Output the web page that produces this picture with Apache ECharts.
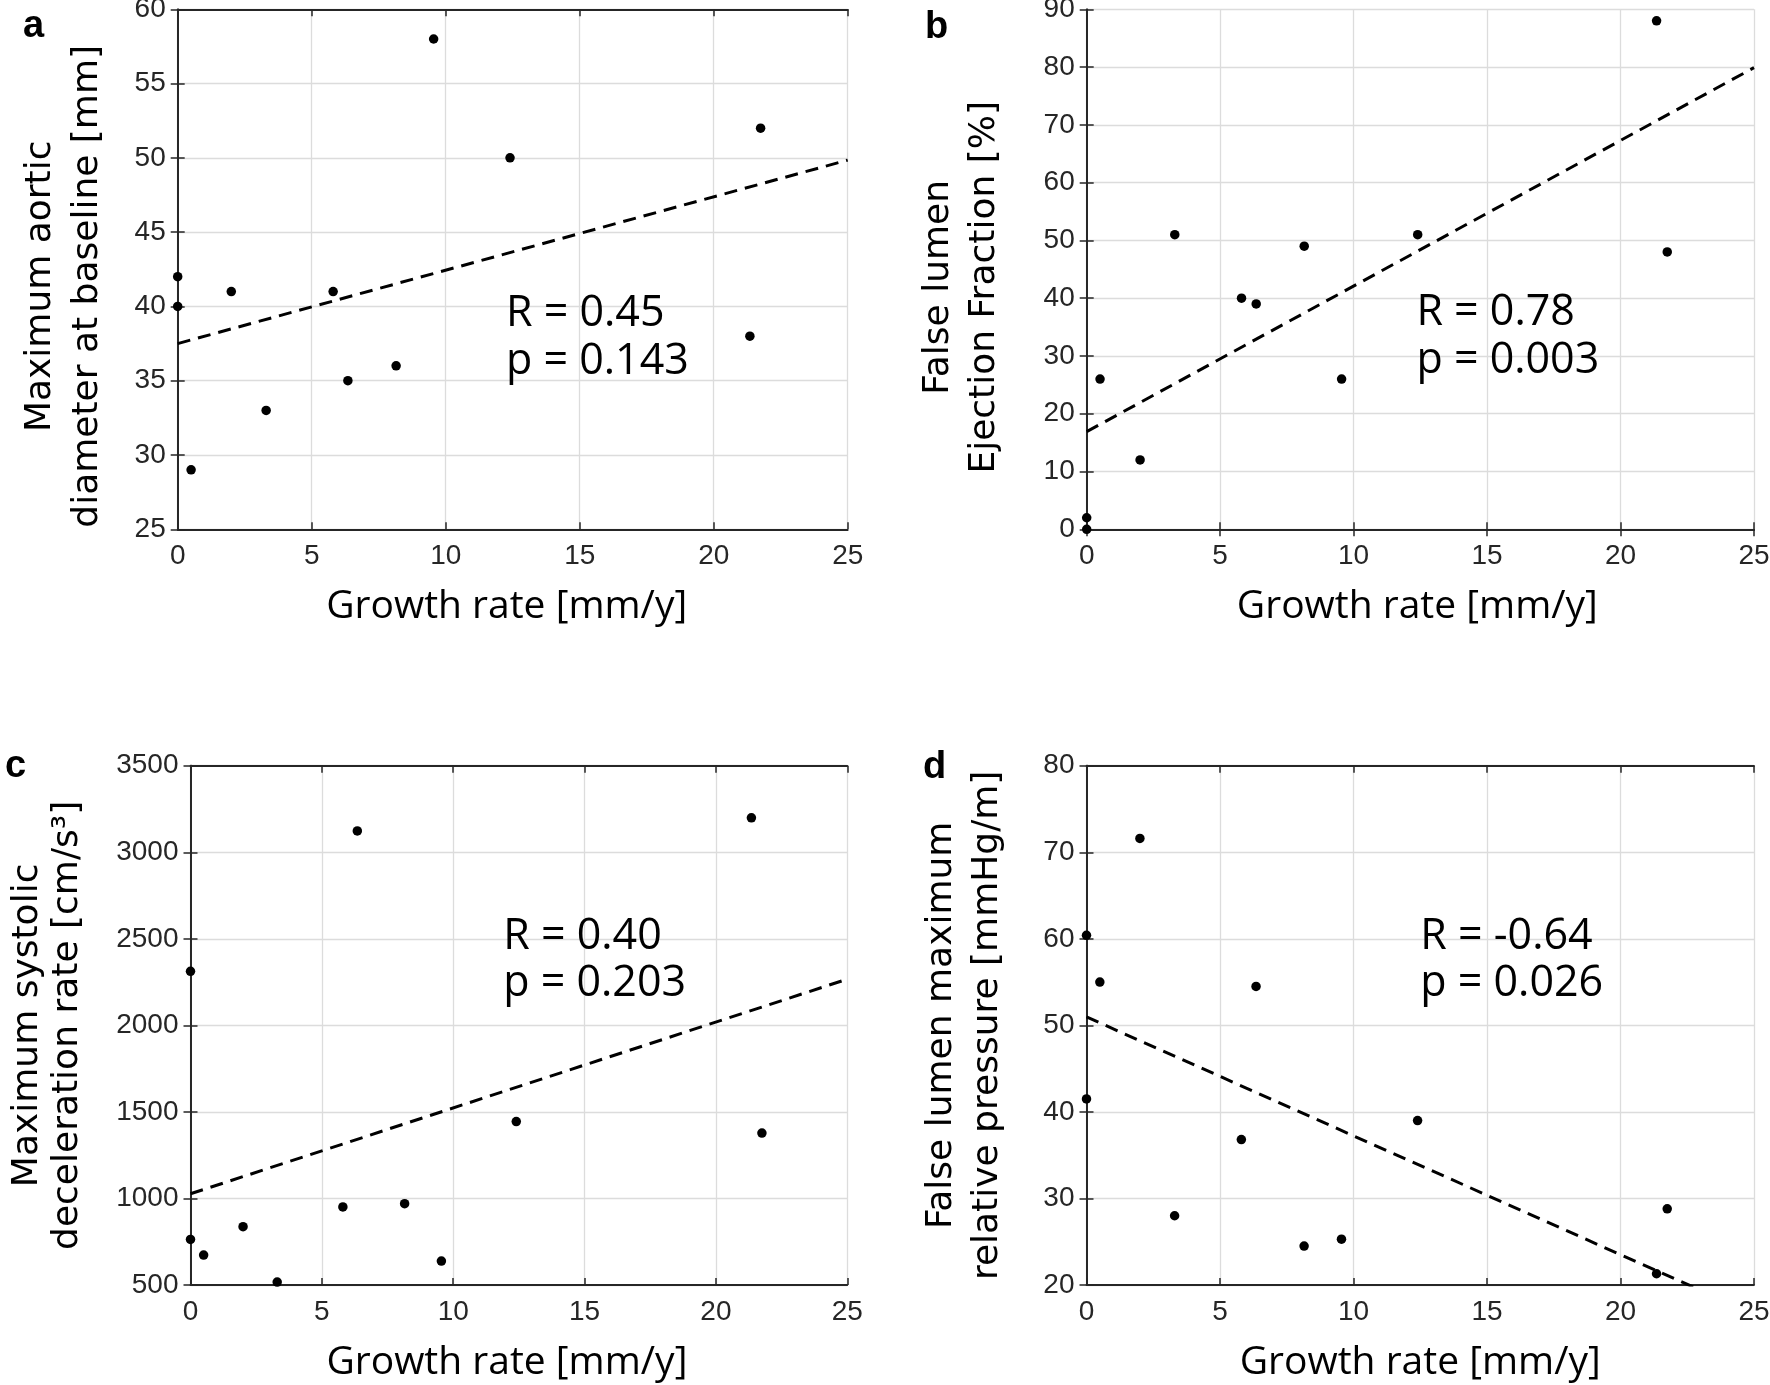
<!DOCTYPE html>
<html>
<head>
<meta charset="utf-8">
<script src="https://cdn.jsdelivr.net/npm/echarts@6/dist/echarts.min.js"></script>
<style>
html,body{margin:0;padding:0;background:#fff;}
#chart{width:1770px;height:1385px;}
</style>
</head>
<body>
<div id="chart"></div>
<script>
// ---------- data ----------
const growthRate = [0, 0, 0.5, 2.0, 3.3, 5.8, 6.35, 8.15, 9.55, 12.4, 21.35, 21.75];
const diameter = [42, 40, 29, 41, 33, 41, 35, 36, 58, 50, 38, 52];
const ejectionFraction = [2, 0, 26, 12, 51, 40, 39, 49, 26, 51, 88, 48];
const decelRate = [2312, 763, 673, 837, 517, 951, 3123, 970, 638, 1444, 3199, 1378];
const pressure = [60.4, 41.5, 55, 71.6, 28, 36.8, 54.5, 24.5, 25.3, 39, 21.3, 28.8];

const trendX = [0, 25];
const trendA = [37.5, 49.85];
const trendB = [16.9, 79.9];
const trendC = [1027, 2267];
const trendD = [50.97, 16.64];

const statsA = ['R = 0.45', 'p = 0.143'];
const statsB = ['R = 0.78', 'p = 0.003'];
const statsC = ['R = 0.40', 'p = 0.203'];
const statsD = ['R = -0.64', 'p = 0.026'];

const panelLetters = ['a', 'b', 'c', 'd'];
const xTitle = 'Growth rate [mm/y]';
const yTitles = [
  'Maximum aortic\ndiameter at baseline [mm]',
  'False lumen\nEjection Fraction [%]',
  'Maximum systolic\ndeceleration rate [cm/s\u00B3]',
  'False lumen maximum\nrelative pressure [mmHg/m]'
];
const xRange = [0, 25, 5];
const yRanges = [[25, 60, 5], [0, 90, 10], [500, 3500, 500], [20, 80, 10]];

// ---------- layout / style ----------
const grids = [
  {left: 177.7, top: 9.3, width: 670, height: 520},
  {left: 1086.7, top: 9.3, width: 667.3, height: 520},
  {left: 190.5, top: 765.7, width: 656.8, height: 519.3},
  {left: 1086.5, top: 765.7, width: 667.5, height: 519.3}
];
const yNameGap = [67, 79, 103, 76];
const yNameLH = [46.5, 46, 40, 46];
const yNameShiftDown = [17, 18, 0, 0];
const xNameShiftLeft = [6, 3, 12, 0];
const statsPos = [[506, 330.7], [1416.4, 329.8], [503.2, 953.3], [1420.3, 953.3]];
const letterPos = [[23, 40], [925, 40.7], [5, 780], [923, 781]];

const AX = '#262626';
const tickFont = 'Liberation Sans';

const allY = [diameter, ejectionFraction, decelRate, pressure];
const allTrend = [trendA, trendB, trendC, trendD];
const allStats = [statsA, statsB, statsC, statsD];

const xAxes = [], yAxes = [], series = [], graphics = [];
const plain = v => String(v);

grids.forEach((g, i) => {
  const baseX = {
    gridIndex: i, type: 'value', min: xRange[0], max: xRange[1], interval: xRange[2],
    axisLine: {show: true, lineStyle: {color: AX, width: 1.8}},
    axisTick: {show: true, inside: true, length: 7, lineStyle: {color: AX, width: 1.5}}
  };
  xAxes.push(Object.assign({}, baseX, {
    position: 'bottom',
    axisLabel: {show: true, margin: 13, color: AX, fontFamily: tickFont, fontSize: 28, formatter: plain},
    splitLine: {show: true, lineStyle: {color: '#dcdcdc', width: 1.3}},
    name: xTitle, nameLocation: 'middle', nameGap: 58,
    nameTextStyle: {fontFamily: 'Open Sans', fontSize: 39, color: '#000', lineHeight: 39,
      padding: [0, 2 * xNameShiftLeft[i], 0, 0]}
  }));
  xAxes.push(Object.assign({}, baseX, {
    position: 'top', axisLabel: {show: false}, splitLine: {show: false}
  }));
  const r = yRanges[i];
  const baseY = {
    gridIndex: i, type: 'value', min: r[0], max: r[1], interval: r[2],
    axisLine: {show: true, lineStyle: {color: AX, width: 1.8}},
    axisTick: {show: true, inside: true, length: 7, lineStyle: {color: AX, width: 1.5}}
  };
  yAxes.push(Object.assign({}, baseY, {
    position: 'left',
    axisLabel: {show: true, margin: 12, color: AX, fontFamily: tickFont, fontSize: 28, formatter: plain},
    splitLine: {show: true, lineStyle: {color: '#dcdcdc', width: 1.3}},
    name: yTitles[i], nameLocation: 'middle', nameRotate: 90, nameGap: yNameGap[i],
    nameTextStyle: {fontFamily: 'DejaVu Sans', fontSize: 36, color: '#000',
      lineHeight: yNameLH[i], align: 'center',
      padding: [0, 2 * yNameShiftDown[i], 0, 0]}
  }));
  yAxes.push(Object.assign({}, baseY, {
    position: 'right', axisLabel: {show: false}, splitLine: {show: false}
  }));

  series.push({
    type: 'line', xAxisIndex: 2 * i, yAxisIndex: 2 * i,
    data: trendX.map((x, k) => [x, allTrend[i][k]]),
    symbol: 'none', clip: true, silent: true,
    lineStyle: {color: '#000', width: 3, type: [13, 8], opacity: 1}, z: 3
  });
  series.push({
    type: 'scatter', xAxisIndex: 2 * i, yAxisIndex: 2 * i,
    data: growthRate.map((x, k) => [x, allY[i][k]]),
    symbol: 'circle', symbolSize: 9.5, itemStyle: {color: '#000', opacity: 1}, z: 4
  });

  // stats annotation
  const fs = 43, lh = 47.5;
  const top1 = statsPos[i][1] - 0.388 * fs - lh / 2;
  graphics.push({
    type: 'text', x: statsPos[i][0], y: top1, z: 10,
    style: {text: allStats[i].join('\n'), font: fs + 'px "Open Sans"', fill: '#000',
      lineHeight: lh, textAlign: 'left', textVerticalAlign: 'top'}
  });
  // panel letter
  const lf = 38;
  graphics.push({
    type: 'text', x: letterPos[i][0], y: letterPos[i][1] - 0.3465 * lf - lf / 2, z: 10,
    style: {text: panelLetters[i], font: 'bold ' + lf + 'px "Liberation Sans"', fill: '#000',
      lineHeight: lf, textAlign: 'left', textVerticalAlign: 'top'}
  });
});

const chart = echarts.init(document.getElementById('chart'), null, {renderer: 'canvas'});
chart.setOption({
  animation: false,
  backgroundColor: '#fff',
  grid: grids.map(g => Object.assign({containLabel: false, outerBoundsMode: 'none'}, g)),
  xAxis: xAxes,
  yAxis: yAxes,
  series: series,
  graphic: graphics
});
</script>
</body>
</html>
